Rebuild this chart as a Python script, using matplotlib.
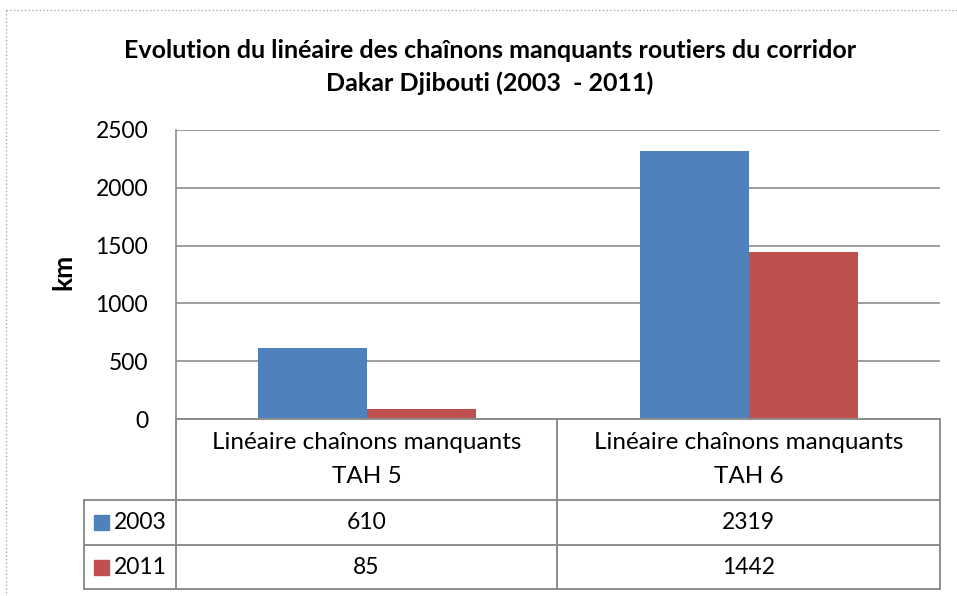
import matplotlib.pyplot as plt
from matplotlib.lines import Line2D
from matplotlib.patches import Rectangle

plt.rcParams['font.family'] = ['Lato', 'DejaVu Sans']

categories = ['Linéaire chaînons manquants\nTAH 5', 'Linéaire chaînons manquants\nTAH 6']
series = ['2003', '2011']
values_2003 = [610, 2319]
values_2011 = [85, 1442]
colours = ['#4F81BD', '#C0504D']
title = 'Evolution du linéaire des chaînons manquants routiers du corridor\nDakar Djibouti (2003  - 2011)'

W, H = 957, 596
fig = plt.figure(figsize=(W / 100, H / 100), dpi=100)

def fx(px):
    return px / W

def fy(py):
    return 1 - py / H

# plot area in pixels
L, R, T, B = 176, 940, 130, 419
ax = fig.add_axes([fx(L), fy(B), fx(R - L), (B - T) / H])

bw = 0.285
xs = range(len(categories))
ax.bar([x - bw / 2 for x in xs], values_2003, bw, color=colours[0], zorder=3)
ax.bar([x + bw / 2 for x in xs], values_2011, bw, color=colours[1], zorder=3)
ax.set_xlim(-0.5, len(categories) - 0.5)
ax.set_ylim(0, 2500)
ax.set_yticks(range(0, 2501, 500))
ax.yaxis.grid(True, color='#8C8C8C', linewidth=1.2)
ax.set_axisbelow(True)
ax.set_xticks([])
for s in ['top', 'right', 'bottom']:
    ax.spines[s].set_visible(False)
ax.spines['left'].set_color('#8C8C8C')
ax.spines['left'].set_linewidth(1.2)
ax.tick_params(axis='y', length=0, labelsize=16.5, pad=20, colors='black')

fig.text(fx(63), fy(272), 'km', rotation=90, ha='center', va='center',
         fontsize=19, fontweight='bold')

fig.text(fx(490), fy(67), title, ha='center', va='center', fontsize=18,
         fontweight='bold', linespacing=1.5)

# data table
gc = '#8C8C8C'
col_x = [L, 557, R]
row_y = [B, 500, 545, 589]
key_x = 84

def hline(x0, x1, y):
    fig.add_artist(Line2D([fx(x0), fx(x1)], [fy(y), fy(y)], color=gc, lw=1.4))

def vline(x, y0, y1):
    fig.add_artist(Line2D([fx(x), fx(x)], [fy(y0), fy(y1)], color=gc, lw=1.4))

hline(L, R, row_y[0])
for y in row_y[1:]:
    hline(key_x, R, y)
for x in col_x:
    vline(x, row_y[0], row_y[-1])
vline(key_x, row_y[1], row_y[-1])

for i, cat in enumerate(categories):
    cx = (col_x[i] + col_x[i + 1]) / 2
    fig.text(fx(cx), fy((row_y[0] + row_y[1]) / 2), cat, ha='center', va='center',
             fontsize=17.5, linespacing=1.75)

rows = [values_2003, values_2011]
for r, (name, vals) in enumerate(zip(series, rows)):
    cy = (row_y[r + 1] + row_y[r + 2]) / 2
    fig.add_artist(Rectangle((fx(94), fy(cy + 7.5)), fx(15), 15 / H,
                             color=colours[r], transform=fig.transFigure))
    fig.text(fx(114), fy(cy), name, ha='left', va='center', fontsize=16.5)
    for i, v in enumerate(vals):
        cx = (col_x[i] + col_x[i + 1]) / 2
        fig.text(fx(cx), fy(cy), str(v), ha='center', va='center', fontsize=16.5)

# dotted chart border
fig.add_artist(Line2D([fx(6), fx(6)], [fy(10), 0], color='#AAAAAA', lw=1, ls=':'))
fig.add_artist(Line2D([fx(6), 1], [fy(10), fy(10)], color='#AAAAAA', lw=1, ls=':'))

fig.savefig('out.png', dpi=100)
